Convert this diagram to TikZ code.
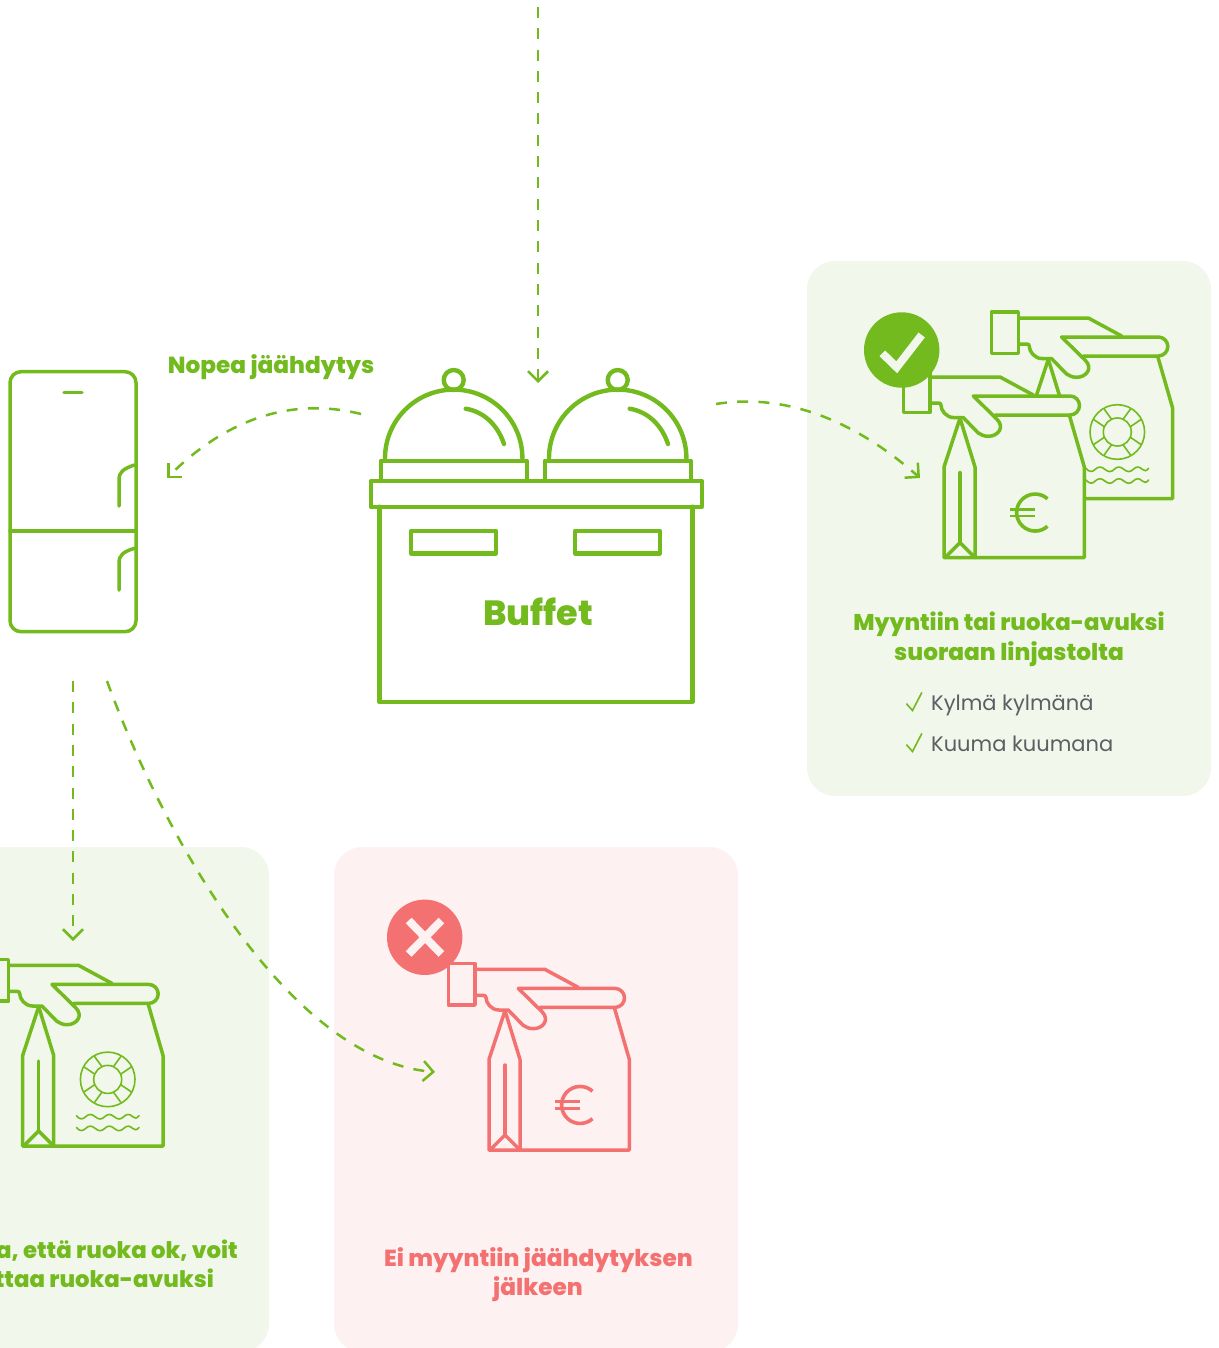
\documentclass[tikz,border=0pt]{standalone}
\usepackage{fontspec}
\setmainfont{Poppins}
\newfontfamily\headfont[UprightFont=* ExtraBold]{Poppins}
\usetikzlibrary{arrows.meta}
\definecolor{leaf}{HTML}{72BA1E}
\definecolor{coral}{HTML}{F47171}
\definecolor{panelg}{HTML}{F1F7EA}
\definecolor{panelp}{HTML}{FDF1F1}
\definecolor{slate}{HTML}{5B5F63}
\tikzset{
  ink/.style={line width=3.5pt,line join=round,line cap=round},
  fine/.style={line width=1.6pt,line cap=round},
  flow/.style={leaf,line width=2.5pt,dash pattern=on 11pt off 10.3pt,-{Straight Barb[length=10pt,width=20pt,line width=2.5pt]}},
  panel/.style={rounded corners=28pt},
  head/.style={font=\headfont\fontsize{23.2}{26}\selectfont,inner sep=0pt,anchor=base},
  listing/.style={font=\fontsize{21}{25}\selectfont,text=slate,inner sep=0pt,anchor=base west},
  tick/.style={leaf,line width=1.6pt,line cap=round,line join=miter}
}
\newcommand{\bagshape}[3]{% origin x, y; colour; panel fill from \bagfill
  \begin{scope}[shift={(#1,#2)},draw=#3,ink]
    \fill[\bagfill] (0,0) -- (-16,48.7) -- (-16,139.3) -- (124.3,139.3) -- (124.3,48.7) -- (109.3,-3.3) -- (35,-3.3) -- cycle;
    \draw (0,0) -- (-16,48.7) -- (-16,139.3) -- (124.3,139.3) -- (124.3,48.7) -- (109.3,-3.3);
    \draw (0,0) -- (15,48.7) -- (15,139.3);
    \draw (0,54.3) -- (0,124.3);
    \draw (-15,139.3) -- (0,124.3) -- (15,139.3);
    % hand
    \fill[\bagfill] (-30,-41.3) -- (40,-41.3) -- (73.3,-23.3) -- (13.3,-22.3) -- (37,1)
       .. controls (45,9) and (38,18) .. (28.3,18) .. controls (24,18) and (21,16.5) .. (18,14.5)
       -- (3.3,-0.7) -- (-6,-0.7) .. controls (-14,-0.7) and (-19,-8) .. (-19,-13)
       .. controls (-19,-15) and (-20,-15.3) .. (-22,-15.3) -- (-30,-15.3) -- cycle;
    \fill[\bagfill] (13.3,-22.3) -- (110,-22.3) arc[start angle=-90,end angle=90,radius=9.5] -- (35,-3.3) -- cycle;
    \draw (-30,-41.3) -- (40,-41.3) -- (73.3,-23.3);
    \draw (35,-3.3) -- (110,-3.3) arc[start angle=90,end angle=-90,radius=9.5] -- (13.3,-22.3) -- (37,1)
       .. controls (45,9) and (38,18) .. (28.3,18) .. controls (24,18) and (21,16.5) .. (18,14.5)
       -- (3.3,-0.7) -- (-6,-0.7) .. controls (-14,-0.7) and (-19,-8) .. (-19,-13)
       .. controls (-19,-15) and (-20,-15.3) .. (-22,-15.3) -- (-30,-15.3);
    \filldraw[fill=\bagfill] (-56.7,-47.3) rectangle (-30,-5.7);
  \end{scope}}
\newcommand{\euromark}[3]{%
  \begin{scope}[shift={(#1,#2)},draw=#3,line width=3.6pt]
    \draw (87.5,80.5) arc[start angle=-48,end angle=-312,radius=18.5];
    \draw[line width=2.8pt] (50,91) -- (75,91);
    \draw[line width=2.8pt] (50,97.6) -- (75,97.6);
  \end{scope}}
\newcommand{\buoy}[2]{%
  \begin{scope}[shift={(#1,#2)},draw=leaf,fine]
    \draw (69,72.7) circle[radius=27.3];
    \draw (69,72.7) circle[radius=14];
    \foreach \sx in {-1,1}{\foreach \sy in {-1,1}{
      \draw (69+\sx*13,72.7+\sy*22.7) -- (69+\sx*5.7,72.7+\sy*12.7);
      \draw (69+\sx*24,72.7+\sy*12.7) -- (69+\sx*13,72.7+\sy*5.3);
    }}
    \foreach \wy in {110,121.7}{
      \draw (37.7,\wy-1) .. controls (41,\wy+3) and (44,\wy+3) .. (47,\wy)
        .. controls (50,\wy-3) and (53,\wy-3) .. (56.5,\wy)
        .. controls (60,\wy+3) and (63,\wy+3) .. (66,\wy)
        .. controls (69,\wy-3) and (72,\wy-3) .. (75.5,\wy)
        .. controls (79,\wy+3) and (82,\wy+3) .. (85,\wy)
        .. controls (88,\wy-3) and (91,\wy-3) .. (94,\wy)
        .. controls (96,\wy+2) and (98,\wy+2) .. (100.3,\wy-1);
    }
  \end{scope}}
\begin{document}
\begin{tikzpicture}[x=1pt,y=-1pt]
\useasboundingbox (0,0) rectangle (1218,1348);
\clip (0,0) rectangle (1218,1348);
% panels
\fill[panelg,panel] (807,261) rectangle (1211,796);
\fill[panelg,panel] (-135,847) rectangle (269,1352);
\fill[panelp,panel] (334,847) rectangle (738,1352);
% fridge
\draw[leaf,ink,rounded corners=11pt] (10,371.7) rectangle (136,631.7);
\draw[leaf,ink] (10,531) -- (136,531);
\draw[leaf,ink] (64,392.7) -- (82,392.7);
\draw[leaf,ink] (119,506) -- (119,480) .. controls (119,472) and (123,469) .. (134.3,465);
\draw[leaf,ink] (119,590) -- (119,563.3) .. controls (119,555) and (123,552) .. (134.3,548.3);
% buffet
\begin{scope}[leaf,line width=4.4pt,line join=round,line cap=round]
\draw (379.3,506.7) -- (379.3,702) -- (692.3,702) -- (692.3,506.7);
\draw (370.7,481) rectangle (701.7,506.7);
\draw (380.7,480.7) -- (380.7,460.7) -- (526.7,460.7) -- (526.7,480.7);
\draw (544.7,480.7) -- (544.7,460.7) -- (690.7,460.7) -- (690.7,480.7);
\draw (385,458.3) arc[start angle=180,end angle=360,radius=68.7];
\draw (549,458.3) arc[start angle=180,end angle=360,radius=68.7];
\draw (453.7,380) circle[radius=10];
\draw (617.7,380) circle[radius=10];
\draw (465.7,408.7) .. controls (485,412) and (498,426) .. (504,444);
\draw (629.7,408.7) .. controls (649,412) and (662,426) .. (668,444);
\draw (411,531) rectangle (496,553.3);
\draw (575,531) rectangle (660,553.3);
\end{scope}
\node[font=\headfont\fontsize{35}{38}\selectfont,text=leaf,inner sep=0pt,anchor=base] (buffet) at (538,625) {Buffet};
% bags, back to front
\def\bagfill{panelg}
\bagshape{1048.3}{359.3}{leaf}\buoy{1048.3}{359.3}
\bagshape{960}{418.3}{leaf}\euromark{960}{418.3}{leaf}
\bagshape{38.7}{1006.7}{leaf}\buoy{38.7}{1006.7}
\def\bagfill{panelp}
\bagshape{505}{1010.7}{coral}\euromark{505}{1010.7}{coral}
% badges
\node[circle,fill=leaf,minimum size=75.4pt,inner sep=0pt] (okbadge) at (901.7,350) {};
\draw[panelg,line width=8pt] (882.3,353.3) -- (896.7,367.3) -- (921.7,335);
\node[circle,fill=coral,minimum size=75.4pt,inner sep=0pt] (nobadge) at (424.7,937.3) {};
\draw[panelp,line width=8pt] (408.7,920.5) -- (441.4,954);
\draw[panelp,line width=8pt] (441.4,920.5) -- (408.7,954);
% connector ends
\coordinate (topstart) at (538,7);
\coordinate (topend) at (538,383);
\coordinate (coolstart) at (361,414);
\coordinate (coolend) at (167,478);
\coordinate (salestart) at (716,404);
\coordinate (saleend) at (920,478);
\coordinate (fridgeA) at (73,681);
\coordinate (okend) at (73,941);
\coordinate (fridgeB) at (107,681);
\coordinate (noend) at (435,1072);
\draw[flow] (topstart) -- (topend);
\draw[flow] (coolstart) .. controls (285,395) and (220,425) .. (coolend);
\draw[flow] (salestart) .. controls (790,392) and (860,425) .. (saleend);
\draw[flow] (fridgeA) -- (okend);
\draw[flow] (fridgeB) .. controls (165,840) and (290,1060) .. (noend);
% labels
\node[head,text=leaf] (cool) at (271,373.3) {Nopea jäähdytys};
\node[head,text=leaf,font=\headfont\fontsize{22.8}{26}\selectfont] (sell1) at (1009,630) {Myyntiin tai ruoka-avuksi};
\node[head,text=leaf] (sell2) at (1009,660) {suoraan linjastolta};
\node[listing] (cold) at (931,710) {Kylmä kylmänä};
\node[listing] (hot) at (931,751) {Kuuma kuumana};
\draw[tick] (906.7,704) -- (912.5,710.5) -- (921.7,692.7);
\draw[tick] (906.7,745) -- (912.5,751.5) -- (921.7,733.7);
\node[head,text=leaf,anchor=base east,font=\headfont\fontsize{22.8}{26}\selectfont] (ok1) at (238,1258) {a, että ruoka ok, voit};
\node[head,text=leaf,anchor=base east,font=\headfont\fontsize{22.8}{26}\selectfont] (ok2) at (214,1287.3) {ttaa ruoka-avuksi};
\node[head,text=coral] (no1) at (538.5,1266) {Ei myyntiin jäähdytyksen};
\node[head,text=coral] (no2) at (538,1295) {jälkeen};
\end{tikzpicture}
\end{document}
